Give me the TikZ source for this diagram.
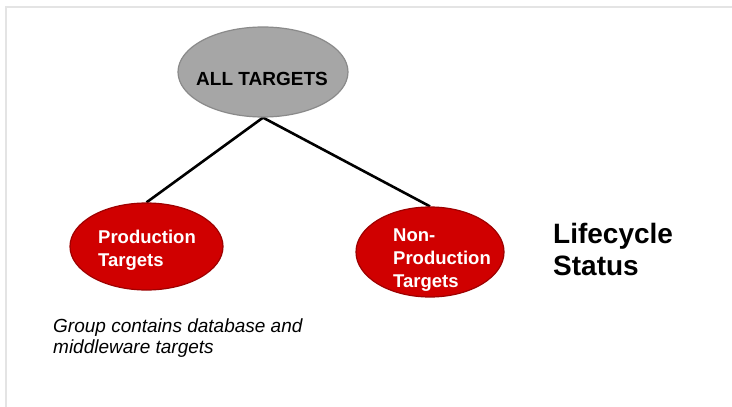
\documentclass[tikz,border=0pt]{standalone}
\usepackage{fontspec}
\setmainfont{Liberation Sans}
\usetikzlibrary{shapes.geometric,backgrounds}
\definecolor{framegray}{HTML}{E4E4E4}
\definecolor{topfill}{HTML}{A6A6A6}
\definecolor{toprim}{HTML}{8A8A8A}
\definecolor{redfill}{HTML}{D00000}
\definecolor{redrim}{HTML}{9E0000}
\tikzset{
  topoval/.style={ellipse, draw=toprim, line width=1.2pt, fill=topfill, inner sep=0pt},
  redoval/.style={ellipse, draw=redrim, line width=1.2pt, fill=redfill, inner sep=0pt},
  link/.style={line width=2.6pt, black},
  wlabel/.style={inner sep=0pt, text=white, align=left, font=\fontsize{18.5}{23}\selectfont\bfseries},
}
\begin{document}
\begin{tikzpicture}[x=1pt,y=-1pt]
\useasboundingbox (0,0) rectangle (732,407);

\node[topoval, minimum width=170pt, minimum height=90pt] (all) at (263,72) {};
\node[inner sep=0pt, anchor=base, font=\fontsize{19}{22}\selectfont\bfseries] (alltxt) at (262,85) {ALL TARGETS};

\node[redoval, minimum width=153pt, minimum height=87pt] (prod) at (146.5,246.5) {};
\node[wlabel, anchor=north west] (prodtxt) at (98,229.8) {Production\\Targets};

\node[redoval, minimum width=148pt, minimum height=90pt] (nonprod) at (430,252) {};
\node[wlabel, anchor=north west] (nonprodtxt) at (393,228.8) {Non-\\Production\\Targets};

\node[inner sep=0pt, anchor=north west, align=left, font=\fontsize{28}{32}\selectfont\bfseries] (status) at (553,223) {Lifecycle\\Status};

\node[inner sep=0pt, anchor=north west, align=left, font=\fontsize{19}{21.5}\selectfont\itshape] (note) at (53,318.4) {Group contains database and\\middleware targets};

\begin{scope}[on background layer]
  \fill[white] (0,0) rectangle (732,407);
  \draw[framegray, line width=1.6pt] (6,407) -- (6,7) -- (732,7);
  \draw[link] (all.south) -- (prod.north);
  \draw[link] (all.south) -- (nonprod.north);
\end{scope}
\end{tikzpicture}
\end{document}
